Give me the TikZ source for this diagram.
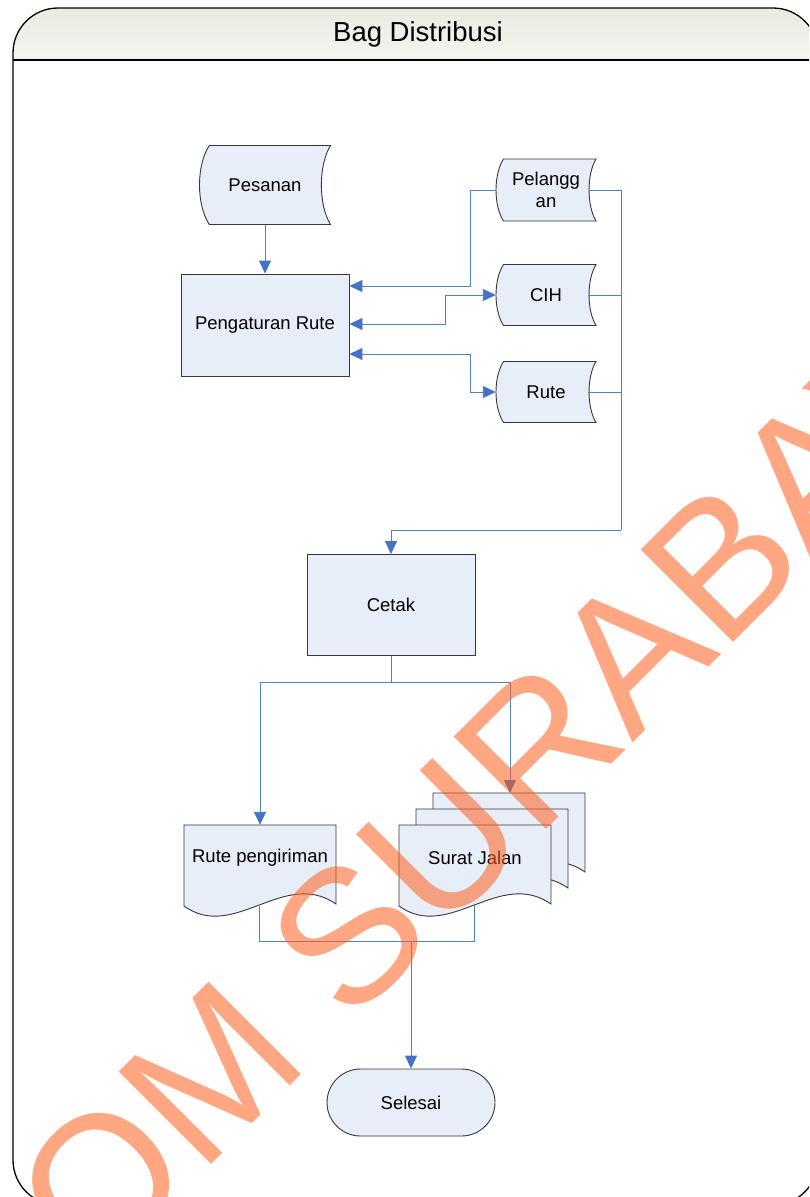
\documentclass[tikz,border=0pt]{standalone}
\usepackage{fontspec}
\setmainfont{Liberation Sans}
\usetikzlibrary{arrows.meta,calc}
\definecolor{boxfill}{RGB}{232,238,247}
\definecolor{linkblue}{RGB}{79,129,189}
\definecolor{tipblue}{RGB}{68,114,196}
\definecolor{edgegray}{RGB}{55,55,55}
\definecolor{headtop}{RGB}{232,235,224}
\definecolor{wmark}{RGB}{255,95,30}

\begin{document}
\begin{tikzpicture}[
  x=1pt,y=-1pt,
  font=\fontsize{18.5}{22}\selectfont,
  outline/.style={draw=edgegray,line width=0.9pt,fill=boxfill},
  proc/.style={outline,minimum width=168pt,minimum height=102pt},
  store/.style={align=center,inner sep=0pt},
  pagetext/.style={minimum width=152pt,minimum height=66pt},
  link/.style={draw=linkblue,line width=0.9pt},
  flow/.style={link,-{Triangle[length=13pt,width=12pt,color=tipblue]}},
  both/.style={link,{Triangle[length=13pt,width=12pt,color=tipblue]}-{Triangle[length=13pt,width=12pt,color=tipblue]}}
]
  \path[use as bounding box] (0,0) rectangle (809,1197);
  \clip (0,0) rectangle (809,1197);

  \begin{scope}
    \clip (0,0) rectangle (809,60);
    \shade[top color=headtop,bottom color=white,rounded corners=45pt] (13,8) rectangle (818,110);
  \end{scope}
  \draw[line width=1.3pt,rounded corners=45pt] (13,8) rectangle (818,1205);
  \draw[line width=1.3pt] (13,60) -- (818,60);
  \node[font=\fontsize{27.5}{31}\selectfont] (title) at (418,34) {Bag Distribusi};

  \foreach \cx/\cy/\w/\h in {265/185/131/79,546/190/100/62,546/295/100/61,546/392/100/61}
    \draw[outline] ({\cx-\w/2+0.075*\w},{\cy-\h/2}) -- ({\cx+\w/2},{\cy-\h/2})
      .. controls ({\cx+\w/2-0.093*\w},{\cy-\h/4}) and ({\cx+\w/2-0.093*\w},{\cy+\h/4}) .. ({\cx+\w/2},{\cy+\h/2})
      -- ({\cx-\w/2+0.075*\w},{\cy+\h/2})
      .. controls ({\cx-\w/2-0.025*\w},{\cy+\h/4}) and ({\cx-\w/2-0.025*\w},{\cy-\h/4}) .. ({\cx-\w/2+0.075*\w},{\cy-\h/2})
      -- cycle;

  \node[store,minimum width=131pt,minimum height=79pt] (pes) at (265,185) {Pesanan};
  \node[proc] (pgr) at (265,325) {Pengaturan Rute};
  \node[store,minimum width=100pt,minimum height=62pt] (pel) at (546,190) {Pelangg\\an};
  \node[store,minimum width=100pt,minimum height=61pt] (cih) at (546,295) {CIH};
  \node[store,minimum width=100pt,minimum height=61pt] (rte) at (546,392) {Rute};
  \node[proc,minimum height=101pt] (cet) at (391,605) {Cetak};

  \draw[outline] (184,825) -- (336,825) -- (336,904)
    .. controls (284,868) and (234,942) .. (184,906) -- cycle;
  \foreach \l/\t in {433/793,416/809,399/825}
    \draw[outline] (\l,\t) -- (\l+152,\t) -- (\l+152,\t+79)
      .. controls (\l+100,\t+43) and (\l+50,\t+117) .. (\l,\t+81) -- cycle;
  \node[pagetext] (rp) at (260,858) {Rute pengiriman};
  \node[pagetext] (sj) at (475,858) {Surat Jalan};
  \coordinate (rpb) at (259,906);
  \coordinate (sjb) at (474,905);
  \coordinate (sjtop) at (510,793);

  \node[outline,rounded corners=33.5pt,minimum width=168pt,minimum height=67pt] (sel) at (411,1102.5) {Selesai};

  \draw[flow] (pes) -- (pgr);
  \draw[flow] (pel.west) -- (470,190) |- ($(pgr.east)+(0,-39)$);
  \draw[both] ($(pgr.east)+(0,-1)$) -- (445,324) |- (cih.west);
  \draw[both] ($(pgr.east)+(0,29)$) -- (470,354) |- (rte.west);

  \coordinate (bus) at (621,530);
  \draw[link] ([xshift=-7pt]pel.east) -| (bus);
  \draw[link] ([xshift=-8pt]cih.east) -- (cih.east -| bus);
  \draw[link] ([xshift=-8pt]rte.east) -- (rte.east -| bus);
  \draw[flow] (bus) -| (cet.north);

  \draw[link] (cet.south) -- (391,682) coordinate (fork);
  \draw[flow] (fork) -| (rp.north);
  \draw[flow] (fork) -| (sjtop);

  \coordinate (join) at (411,941);
  \draw[link] (rpb) |- (join) -| (sjb);
  \draw[flow] (join) -- (sel);

  \node[font=\fontsize{190}{200}\selectfont,text=wmark,text opacity=0.55,
        rotate=45,anchor=base] (wm) at (429,947) {STIKOM SURABAYA};
\end{tikzpicture}
\end{document}
